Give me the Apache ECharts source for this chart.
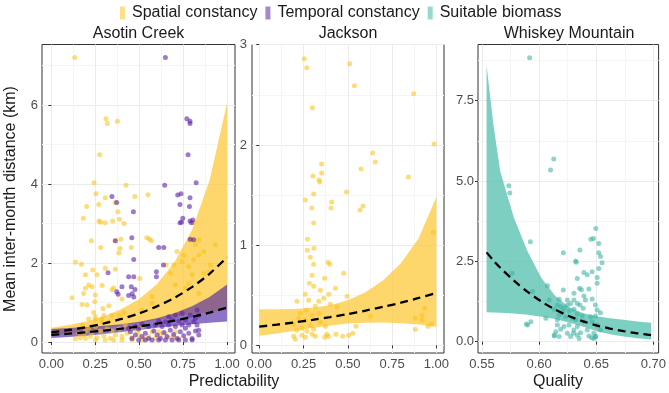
<!DOCTYPE html>
<html><head><meta charset="utf-8">
<script src="https://cdn.jsdelivr.net/npm/echarts@6/dist/echarts.min.js"></script>
<style>html,body{margin:0;padding:0;background:#fff}#c{width:669px;height:393px}</style>
</head><body><div id="c"></div>
<script>
// ---------- text ----------
const legendNames = ['Spatial constancy', 'Temporal constancy', 'Suitable biomass'];
const panelTitles = ['Asotin Creek', 'Jackson', 'Whiskey Mountain'];
const xTitles = ['Predictability', 'Quality'];
const yTitle = 'Mean inter-month distance (km)';

// ---------- ticks ----------
const predTicks = [0, 0.25, 0.5, 0.75, 1];
const predMinor = [0.125, 0.375, 0.625, 0.875];
const asotinYTicks = [0, 2, 4, 6];
const asotinYMinor = [1, 3, 5, 7];
const jacksonYTicks = [0, 1, 2, 3];
const jacksonYMinor = [0.5, 1.5, 2.5];
const qualityTicks = [0.55, 0.6, 0.65, 0.7];
const qualityMinor = [0.575, 0.625, 0.675];
const whiskeyYTicks = [0, 2.5, 5, 7.5];
const whiskeyYMinor = [1.25, 3.75, 6.25, 8.75];

// ---------- fitted curves + ribbons ----------
const predFitX = [0, 0.1, 0.2, 0.3, 0.4, 0.5, 0.6, 0.7, 0.8, 0.9, 1.0];
const asotinSpatialFit = [0.245, 0.304, 0.378, 0.470, 0.584, 0.725, 0.901, 1.119, 1.390, 1.727, 2.146];
const asotinSpatialLo = [0.16, 0.21, 0.27, 0.34, 0.41, 0.48, 0.56, 0.63, 0.70, 0.76, 0.82];
const asotinSpatialHi = [0.36, 0.428, 0.522, 0.651, 0.833, 1.09, 1.462, 2.01, 2.83, 4.09, 6.05];
const asotinTemporalFit = [0.18, 0.211, 0.247, 0.289, 0.338, 0.396, 0.464, 0.543, 0.635, 0.744, 0.871];
const asotinTemporalLo = [0.099, 0.126, 0.161, 0.203, 0.253, 0.307, 0.360, 0.406, 0.447, 0.485, 0.522];
const asotinTemporalHi = [0.328, 0.352, 0.379, 0.411, 0.452, 0.511, 0.599, 0.727, 0.903, 1.141, 1.453];
const jacksonFit = [0.187, 0.207, 0.230, 0.255, 0.282, 0.313, 0.347, 0.385, 0.426, 0.473, 0.524];
const jacksonLo = [0.097, 0.119, 0.146, 0.173, 0.199, 0.218, 0.227, 0.228, 0.221, 0.209, 0.186];
const jacksonHi = [0.36, 0.36, 0.362, 0.375, 0.40, 0.45, 0.53, 0.65, 0.82, 1.07, 1.48];
const whiskeyFitX = [0.554, 0.560, 0.566, 0.578, 0.590, 0.602, 0.614, 0.626, 0.638, 0.650, 0.662, 0.674, 0.686, 0.698];
const whiskeyFit = [2.78, 2.53, 2.30, 1.90, 1.55, 1.25, 1.00, 0.80, 0.64, 0.51, 0.41, 0.33, 0.26, 0.205];
const whiskeyLo = [0.92, 0.91, 0.90, 0.88, 0.84, 0.78, 0.71, 0.60, 0.47, 0.33, 0.23, 0.16, 0.11, 0.072];
const whiskeyHi = [8.6, 6.75, 5.3, 3.85, 2.80, 1.98, 1.43, 1.08, 0.89, 0.79, 0.73, 0.68, 0.63, 0.59];

// ---------- observed points ----------
const asotinSpatialPts = [
 [0.133,7.20],[0.311,5.65],[0.319,5.53],[0.376,5.59],[0.275,4.74],[0.243,4.03],[0.254,3.75],[0.425,3.97],[0.201,3.43],[0.270,3.48],
 [0.307,3.65],[0.475,3.68],[0.550,3.73],[0.363,3.53],[0.378,3.30],[0.182,3.13],[0.271,3.06],[0.280,3.03],[0.306,3.02],[0.349,3.06],
 [0.387,3.11],[0.414,3.00],[0.808,3.02],[0.543,2.64],[0.395,2.60],
 [0.228,2.56],[0.281,2.39],[0.364,2.56],[0.558,2.61],[0.569,2.56],[0.455,2.39],[0.391,2.37],[0.791,2.58],[0.839,2.58],[0.384,2.25],
 [0.137,2.02],[0.171,1.97],[0.307,1.87],[0.236,1.82],[0.194,1.70],[0.260,1.70],[0.364,1.84],[0.503,1.61],[0.653,1.95],[0.678,1.74],
 [0.213,1.44],[0.232,1.40],[0.289,1.43],[0.355,1.37],[0.194,1.36],[0.345,1.32],[0.118,1.12],[0.184,1.23],[0.250,1.19],[0.402,1.09],
 [0.175,0.95],[0.203,0.94],[0.247,1.02],[0.294,0.85],[0.241,0.75],[0.327,0.92],[0.298,0.67],[0.285,0.58],[0.250,0.64],[0.345,0.68],
 [0.384,0.68],[0.412,0.75],[0.516,0.81],[0.573,0.98],[0.573,1.15],
 [0.706,1.44],[0.763,1.36],[0.782,1.49],[0.801,1.70],[0.839,1.23],[0.867,1.74],[0.905,1.95],[0.810,2.08],[0.782,1.91],[0.744,2.03],
 [0.697,1.95],[0.754,2.20],[0.715,2.29],[0.820,2.46],[0.867,2.29],[0.933,2.46],[0.896,1.78],[0.839,2.20],
 [0.175,0.43],[0.213,0.35],[0.251,0.39],[0.279,0.28],[0.317,0.33],[0.184,0.18],[0.222,0.14],[0.260,0.11],[0.298,0.16],[0.336,0.09],
 [0.364,0.18],[0.402,0.14],[0.431,0.22],[0.459,0.11],[0.497,0.18],[0.526,0.09],[0.554,0.14],[0.592,0.09],[0.621,0.18],[0.232,0.24],
 [0.345,0.28],[0.383,0.33],[0.421,0.43],[0.450,0.33],[0.488,0.28],[0.194,0.28],[0.156,0.22],[0.289,0.50],[0.326,0.51],[0.251,0.56],
 [0.213,0.58],[0.516,0.39],[0.573,0.26],[0.668,0.11],[0.696,0.14],[0.725,0.09],[0.194,0.09],[0.165,0.11],[0.137,0.08],[0.402,0.05],
 [0.459,0.05],[0.516,0.05],[0.355,0.05],[0.307,0.05],[0.251,0.05],[0.611,0.26],[0.649,0.22],[0.706,0.26]
];
const asotinTemporalPts = [
 [0.649,7.20],[0.771,5.65],[0.789,5.59],[0.789,5.53],[0.778,4.74],[0.824,4.03],[0.645,3.97],[0.345,3.68],[0.719,3.72],[0.738,3.75],
 [0.789,3.65],[0.372,3.53],[0.732,3.48],[0.786,3.43],[0.467,3.30],[0.748,3.13],[0.732,3.02],[0.741,3.03],[0.789,3.06],[0.805,3.09],
 [0.797,3.02],[0.458,2.64],[0.790,2.60],[0.810,2.59],
 [0.364,2.56],[0.611,2.39],[0.640,2.39],[0.469,2.09],[0.323,1.75],[0.440,1.65],[0.469,1.65],[0.598,1.78],[0.598,1.65],[0.402,1.40],
 [0.455,1.40],[0.380,1.21],[0.440,1.18],[0.460,1.22],[0.469,1.14],[0.638,1.95],[0.372,1.27],[0.476,1.33],
 [0.450,0.26],[0.478,0.18],[0.497,0.33],[0.516,0.14],[0.535,0.22],[0.554,0.09],[0.583,0.28],[0.602,0.18],[0.621,0.09],[0.640,0.24],
 [0.658,0.14],[0.677,0.30],[0.696,0.19],[0.715,0.09],[0.734,0.26],[0.753,0.16],[0.763,0.35],[0.782,0.22],[0.801,0.09],[0.820,0.28],
 [0.829,0.43],[0.839,0.18],[0.810,0.51],[0.782,0.43],[0.744,0.43],[0.706,0.39],[0.668,0.43],[0.630,0.39],[0.592,0.43],[0.554,0.39],
 [0.516,0.45],[0.478,0.39],[0.440,0.35],[0.459,0.09],[0.497,0.05],[0.535,0.05],[0.573,0.05],[0.611,0.05],[0.649,0.05],[0.687,0.05],
 [0.725,0.05],[0.763,0.05],[0.801,0.05],[0.839,0.30],[0.820,0.60],[0.791,0.68],[0.763,0.56],[0.725,0.53],[0.687,0.56],[0.649,0.51],
 [0.611,0.53],[0.839,0.68],[0.829,0.81],[0.706,0.68],[0.744,0.73],[0.668,0.64]
];
const jacksonPts = [
 [0.254,2.86],[0.268,2.77],[0.511,2.81],[0.537,2.59],[0.300,2.37],[0.872,2.51],[0.987,2.01],[0.640,1.92],[0.655,1.83],[0.352,1.81],
 [0.352,1.72],[0.303,1.69],[0.575,1.76],[0.337,1.65],[0.342,1.63],[0.842,1.68],[0.307,1.51],[0.492,1.53],[0.260,1.45],[0.409,1.43],
 [0.296,1.37],[0.405,1.37],[0.586,1.39],[0.569,1.35],[0.307,1.22],[0.983,1.13],[0.273,1.06],[0.271,0.95],[0.309,0.97],[0.288,0.88],
 [0.307,0.81],[0.388,0.83],[0.399,0.81],[0.298,0.70],[0.477,0.72],[0.369,0.67],[0.283,0.62],[0.307,0.59],[0.430,0.57],[0.345,0.55],
 [0.392,0.51],[0.260,0.51],[0.496,0.49],[0.213,0.44],[0.279,0.45],[0.336,0.44],[0.401,0.41],[0.364,0.47],[0.439,0.38],[0.316,0.39],
 [0.266,0.35],[0.232,0.32],[0.298,0.30],[0.336,0.32],[0.223,0.27],[0.260,0.25],[0.627,0.29],[0.194,0.21],[0.288,0.20],[0.345,0.23],
 [0.373,0.19],[0.241,0.17],[0.307,0.16],[0.212,0.15],[0.269,0.14],[0.546,0.19],[0.194,0.09],[0.203,0.06],[0.241,0.10],[0.260,0.08],
 [0.298,0.11],[0.316,0.09],[0.370,0.08],[0.381,0.11],[0.390,0.09],[0.433,0.11],[0.471,0.09],[0.505,0.10],[0.528,0.12],[0.881,0.16],
 [0.881,0.27],[0.919,0.30],[0.934,0.37],[0.919,0.25],[0.953,0.19],[0.972,0.21]
];
const whiskeyPts = [
 [0.5917,8.84],[0.6128,5.69],[0.6100,5.34],[0.5735,4.85],[0.5743,4.63],[0.6496,3.52],[0.6453,3.19],[0.6476,3.21],[0.6522,3.06],[0.5923,3.11],
 [0.6522,2.77],[0.6212,2.77],[0.6357,2.85],[0.6320,2.51],[0.6325,2.47],[0.6551,2.46],[0.6537,2.65],[0.6522,2.28],[0.6464,2.18],[0.6421,2.08],
 [0.6392,2.15],[0.6508,2.00],[0.5763,2.13],[0.6334,1.97],[0.6508,1.82],[0.6354,1.66],[0.6370,1.62],[0.6436,1.64],[0.6073,1.74],[0.6212,1.61],
 [0.5943,1.56],[0.6305,1.51],[0.6305,1.30],[0.6392,1.42],[0.6406,1.30],[0.6464,1.33],[0.6088,1.30],[0.6175,1.32],[0.6247,1.30],[0.6276,1.19],
 [0.6334,1.19],[0.6357,1.14],[0.6386,1.04],[0.6493,1.14],[0.6508,0.99],[0.6537,0.90],[0.6160,1.14],[0.6189,1.09],[0.6218,1.04],[0.6247,1.14],
 [0.6132,1.01],[0.6204,0.93],[0.6262,0.96],[0.6305,1.01],[0.6334,0.86],[0.6377,0.80],[0.6450,0.78],[0.6493,0.80],[0.6175,0.83],[0.6232,0.78],
 [0.6291,0.73],[0.6059,0.73],[0.6160,0.68],[0.5900,0.52],[0.5928,0.62],[0.6320,0.68],[0.6392,0.62],[0.6464,0.62],[0.6508,0.52],[0.6160,0.52],
 [0.6218,0.47],[0.6262,0.52],[0.6334,0.47],[0.6146,0.31],[0.6189,0.39],[0.6247,0.26],[0.6305,0.36],[0.6363,0.28],[0.6421,0.36],[0.6479,0.26],
 [0.6537,0.36],[0.6132,0.21],[0.6175,0.16],[0.6276,0.16],[0.6334,0.21],[0.6436,0.18],[0.6493,0.16],[0.5888,0.55],[0.6496,0.16],[0.6480,0.10],
 [0.6460,0.12],[0.6134,0.18],[0.6350,0.10],[0.6300,0.26]
];

// ---------- styling ----------
const FONT = 'Liberation Sans, Arial, Helvetica, sans-serif';
const COL = {
  yellowPt: 'rgba(249,194,26,0.72)', purplePt: 'rgba(94,34,168,0.75)', tealPt: 'rgba(61,179,163,0.72)',
  yellowRib: 'rgba(252,201,58,0.75)', purpleRib: 'rgba(75,31,163,0.62)', tealRib: 'rgba(92,195,179,0.80)'
};
const grids = [
  {left: 42, top: 44.5, width: 193, height: 308.5},
  {left: 252, top: 44.5, width: 192, height: 308.5},
  {left: 478, top: 44.5, width: 182, height: 308.5}
].map(g => Object.assign(g, {show: true, borderColor: '#333', borderWidth: 1, backgroundColor: 'transparent'}));
const xr = [[-0.053, 1.045], [-0.041, 1.043], [0.5465, 0.7046]];
const yr = [[-0.278, 7.53], [-0.076, 3.002], [-0.352, 9.25]];
const labelStyle = {color: '#4D4D4D', fontSize: 13, fontFamily: FONT, lineHeight: 12,
  showMinLabel: true, showMaxLabel: true, hideOverlap: false};

function mainAxis(i, range, ticks, fmt, margin) {
  return {type: 'value', gridIndex: i, min: range[0], max: range[1],
    axisLine: {show: false},
    axisTick: {show: true, length: 3, lineStyle: {color: '#333'}, customValues: ticks},
    axisLabel: Object.assign({customValues: ticks, formatter: fmt, margin: margin}, labelStyle),
    splitLine: {show: true, lineStyle: {color: '#EBEBEB', width: 1}}};
}
function minorAxis(i, range, ticks) {
  return {type: 'value', gridIndex: i, min: range[0], max: range[1],
    axisLine: {show: false}, axisTick: {show: false, customValues: ticks},
    axisLabel: {show: false, customValues: ticks},
    splitLine: {show: true, lineStyle: {color: '#F5F5F5', width: 1}}};
}
const f2 = v => v.toFixed(2), f1 = v => v.toFixed(1), f0 = v => String(Math.round(v));

const xAxis = [
  mainAxis(0, xr[0], predTicks, f2, 5), mainAxis(1, xr[1], predTicks, f2, 5), mainAxis(2, xr[2], qualityTicks, f2, 5),
  minorAxis(0, xr[0], predMinor), minorAxis(1, xr[1], predMinor), minorAxis(2, xr[2], qualityMinor)
];
const yAxis = [
  mainAxis(0, yr[0], asotinYTicks, f0, 4), mainAxis(1, yr[1], jacksonYTicks, f0, 5), mainAxis(2, yr[2], whiskeyYTicks, f1, 4),
  minorAxis(0, yr[0], asotinYMinor), minorAxis(1, yr[1], jacksonYMinor), minorAxis(2, yr[2], whiskeyYMinor)
];

function ribbon(i, xs, lo, hi, color) {
  return {type: 'custom', xAxisIndex: i, yAxisIndex: i, silent: true, z: 1,
    data: [[xs[0], lo[0]]],
    renderItem: function (params, api) {
      const pts = [];
      for (let k = 0; k < xs.length; k++) pts.push(api.coord([xs[k], hi[k]]));
      for (let k = xs.length - 1; k >= 0; k--) pts.push(api.coord([xs[k], lo[k]]));
      return {type: 'polygon', shape: {points: pts}, style: {fill: color}};
    }};
}
function points(i, pts, name, color) {
  return {type: 'scatter', name: name, xAxisIndex: i, yAxisIndex: i, z: 2, silent: true,
    symbolSize: 5, itemStyle: {color: color}, data: pts};
}
function fit(i, xs, ys) {
  return {type: 'line', xAxisIndex: i, yAxisIndex: i, z: 3, silent: true, showSymbol: false, smooth: 0.3,
    lineStyle: {color: '#000', width: 2.3, type: [8, 5]}, data: xs.map((x, k) => [x, ys[k]])};
}

const series = [
  ribbon(0, predFitX, asotinSpatialLo, asotinSpatialHi, COL.yellowRib),
  ribbon(0, predFitX, asotinTemporalLo, asotinTemporalHi, COL.purpleRib),
  ribbon(1, predFitX, jacksonLo, jacksonHi, COL.yellowRib),
  ribbon(2, whiskeyFitX, whiskeyLo, whiskeyHi, COL.tealRib),
  points(0, asotinSpatialPts, legendNames[0], COL.yellowPt),
  points(0, asotinTemporalPts, legendNames[1], COL.purplePt),
  points(1, jacksonPts, legendNames[0], COL.yellowPt),
  points(2, whiskeyPts, legendNames[2], COL.tealPt),
  fit(0, predFitX, asotinSpatialFit),
  fit(0, predFitX, asotinTemporalFit),
  fit(1, predFitX, jacksonFit),
  fit(2, whiskeyFitX, whiskeyFit)
];

const txt = (x, y, s, extra) => Object.assign({type: 'text', x: x, y: y, silent: true,
  style: {text: s, fill: '#1A1A1A', font: '16px ' + FONT, textAlign: 'center', textVerticalAlign: 'middle'}}, extra || {});

const option = {
  animation: false,
  backgroundColor: '#fff',
  grid: grids,
  xAxis: xAxis,
  yAxis: yAxis,
  legend: {
    left: 115, top: 0, icon: 'rect', itemWidth: 5, itemHeight: 13, itemGap: 8,
    textStyle: {fontSize: 16, color: '#1A1A1A', fontFamily: FONT, padding: [0, 0, 0, 2]},
    data: [
      {name: legendNames[0], itemStyle: {color: '#FDD66B'}},
      {name: legendNames[1], itemStyle: {color: '#8C6BC6'}},
      {name: legendNames[2], itemStyle: {color: '#7ECFC3'}}
    ]
  },
  graphic: [
    txt(138.5, 34, panelTitles[0]),
    txt(348, 34, panelTitles[1]),
    txt(569, 34, panelTitles[2]),
    txt(234, 382, xTitles[0]),
    txt(558, 382, xTitles[1]),
    txt(10.5, 199, yTitle, {rotation: Math.PI / 2})
  ],
  series: series
};
const chart = echarts.init(document.getElementById('c'));
chart.setOption(option);
</script>
</body></html>
